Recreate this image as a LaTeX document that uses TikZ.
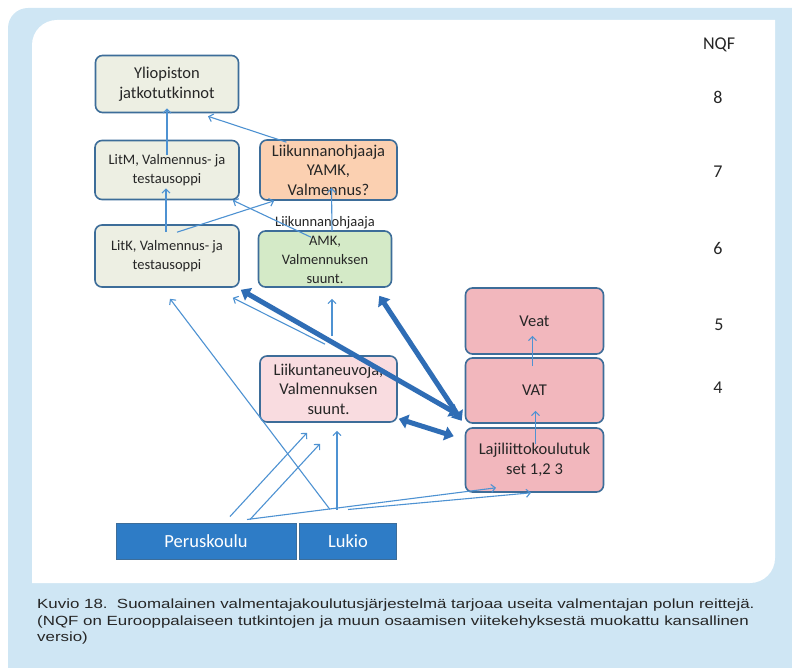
\documentclass[tikz,border=0pt]{standalone}
\usepackage{fontspec}
\setmainfont{Carlito}
\newfontfamily\capfont[FakeStretch=1.27]{Liberation Sans}
\usetikzlibrary{arrows.meta}

\definecolor{frame}{HTML}{CFE6F4}
\definecolor{edge}{HTML}{3D6D99}
\definecolor{grey}{HTML}{EDEFE3}
\definecolor{peach}{HTML}{FBD0B1}
\definecolor{mint}{HTML}{D4EAC7}
\definecolor{rose}{HTML}{F9DCE0}
\definecolor{pink}{HTML}{F2B7BD}
\definecolor{school}{HTML}{2E7CC6}
\definecolor{thinline}{HTML}{4E92D2}
\definecolor{thickline}{HTML}{2F6DB5}

\begin{document}
\begin{tikzpicture}[x=1pt,y=-1pt,
    box/.style={draw=edge,line width=1.6pt,rounded corners=7pt,align=center,
        text=black!85,inner sep=0pt,font=\fontsize{16.5}{19.5}\selectfont},
    small/.style={font=\fontsize{14.5}{19}\selectfont},
    schoolbox/.style={draw=edge,line width=1pt,fill=school,text=white,
        inner sep=0pt,minimum height=36pt,font=\fontsize{18.5}{20}\selectfont},
    level/.style={font=\fontsize{18}{20}\selectfont,text=black!85},
    thin/.style={draw=thinline,line width=1.1pt,-{Straight Barb[length=4pt,width=8pt]}},
    thick/.style={draw=thickline,line width=5pt,
        {Triangle[length=9pt,width=14pt]}-{Triangle[length=9pt,width=14pt]}}]
\useasboundingbox (0,0) rectangle (792,668);
\fill[frame,rounded corners=20pt] (8,8) rectangle (820,700);
\fill[white] (32,45) [rounded corners=25pt] -- (32,20) [sharp corners] -- (775,20)
    [rounded corners=25pt] -- (775,583) [sharp corners] -- (32,583) -- cycle;

\node[box,fill=grey,minimum width=143pt,minimum height=57pt] (ylio) at (167,84) {Yliopiston\\jatkotutkinnot};
\node[box,small,fill=grey,minimum width=144pt,minimum height=59pt] (litm) at (167,170) {LitM, Valmennus- ja\\testausoppi};
\node[box,small,fill=grey,minimum width=144pt,minimum height=62pt] (litk) at (167,256) {LitK, Valmennus- ja\\testausoppi};
\node[box,fill=peach,minimum width=137pt,minimum height=60pt] (yamk) at (328.5,170) {Liikunnanohjaaja\\YAMK,\\Valmennus?};
\node[box,fill=mint,minimum width=133pt,minimum height=56pt] (amk) at (325,259) {};
\node[small,text=black!85,align=center,inner sep=0pt] (amktext) at ([yshift=8.5pt]amk.center) {Liikunnanohjaaja\\AMK,\\Valmennuksen\\suunt.};
\node[box,fill=rose,minimum width=137pt,minimum height=66pt] (neuvoja) at (328.5,389) {Liikuntaneuvoja,\\Valmennuksen\\suunt.};
\node[box,fill=pink,minimum width=138pt,minimum height=66pt] (veat) at (534.5,321) {Veat};
\node[box,fill=pink,minimum width=138pt,minimum height=65pt] (vat) at (534.5,390.5) {VAT};
\node[box,fill=pink,minimum width=138pt,minimum height=64pt] (laji) at (534.5,460) {Lajiliittokoulutuk\\set 1,2 3};
\node[schoolbox,minimum width=180pt] (perus) at (206,541) {Peruskoulu};
\node[schoolbox,minimum width=97pt] (lukio) at (348,541) {Lukio};

\node[level] (nqf) at (719,45) {NQF};
\node[level] (n8) at (718,97) {8};
\node[level] (n7) at (718,172) {7};
\node[level] (n6) at (718,248) {6};
\node[level] (n5) at (719,325) {5};
\node[level] (n4) at (718,388) {4};

\draw[thin] ([yshift=-15pt]litm.north) -- ([yshift=5pt]ylio.south);
\draw[thin] ([xshift=-42pt,yshift=-3pt]yamk.north) -- ([xshift=41pt,yshift=-3pt]ylio.south);
\draw[thin] ([xshift=-1pt,yshift=-8pt]litk.north) -- ([xshift=-1pt,yshift=12pt]litm.south);
\draw[thin] ([xshift=10pt,yshift=-8pt]litk.north) -- ([xshift=15pt]yamk.south west);
\draw[thin] ([xshift=-14pt,yshift=-7pt]amk.north) -- ([xshift=-7pt]litm.south east);
\draw[thin] ([xshift=7pt,yshift=-1pt]amk.north) -- ([xshift=3pt,yshift=13pt]yamk.south);

\draw[thin] ([xshift=-18pt,yshift=13pt]lukio.north) -- ([xshift=3pt,yshift=-11pt]litk.south);
\draw[thin] ([xshift=-3.5pt,yshift=11pt]neuvoja.north) -- ([xshift=-7pt,yshift=-10pt]litk.south east);
\draw[thin] ([xshift=3.5pt,yshift=19pt]neuvoja.north) -- ([xshift=7pt,yshift=-11pt]amk.south);
\draw[thin] ([xshift=24pt,yshift=6pt]perus.north) -- ([xshift=-21.5pt,yshift=-10pt]neuvoja.south);
\draw[thin] ([xshift=44pt,yshift=3pt]perus.north) -- ([xshift=-8.5pt,yshift=-21pt]neuvoja.south);
\draw[thin] ([xshift=-11pt,yshift=13pt]lukio.north) -- ([xshift=8.5pt,yshift=-8pt]neuvoja.south);
\draw[thin] ([xshift=41pt,yshift=3pt]perus.north) -- ([xshift=-38.5pt,yshift=5pt]laji.south);
\draw[thin] ([yshift=13pt]lukio.north) -- ([xshift=-3.5pt]laji.south);
\draw[thin] ([xshift=1pt,yshift=-17pt]laji.north) -- ([xshift=1pt,yshift=13pt]vat.south);
\draw[thin] ([xshift=-2pt,yshift=-9pt]vat.north) -- ([xshift=-2pt,yshift=19pt]veat.south);

\draw[thick] ([xshift=1pt,yshift=-2pt]litk.south east) -- ([xshift=-6pt,yshift=9pt]vat.south west);
\draw[thick] ([xshift=-13pt,yshift=-8pt]amk.south east) -- ([xshift=-3pt,yshift=3pt]vat.south west);
\draw[thick] ([xshift=1pt,yshift=4pt]neuvoja.south east) -- ([xshift=-11pt,yshift=-9pt]laji.north west);

\node[anchor=north west,align=left,inner sep=0pt,
    font=\capfont\fontsize{13.3}{16.7}\selectfont,text=black!85] (caption) at (37,598.5)
    {Kuvio 18.\ \ Suomalainen valmentajakoulutusjärjestelmä tarjoaa useita valmentajan polun reittejä.\\
     (NQF on Eurooppalaiseen tutkintojen ja muun osaamisen viitekehyksestä muokattu kansallinen\\
     versio)};
\end{tikzpicture}
\end{document}
